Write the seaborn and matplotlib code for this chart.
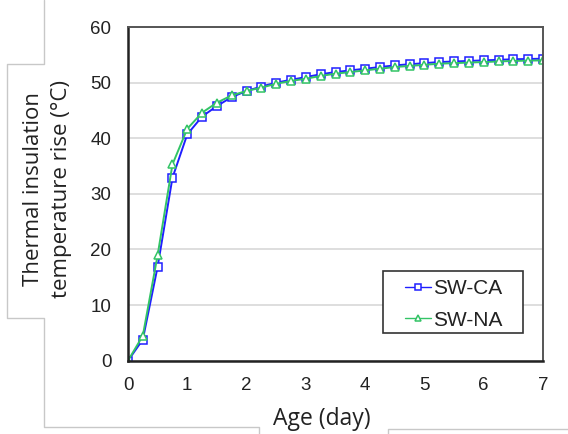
import numpy as np
import pandas as pd
import matplotlib
matplotlib.use("Agg")
import matplotlib.pyplot as plt
from matplotlib.lines import Line2D
from matplotlib.patches import Rectangle
import seaborn as sns

# ========== DATA ==========
age_day = [0, 0.25, 0.5, 0.75, 1, 1.25, 1.5, 1.75, 2, 2.25, 2.5, 2.75, 3, 3.25, 3.5,
           3.75, 4, 4.25, 4.5, 4.75, 5, 5.25, 5.5, 5.75, 6, 6.25, 6.5, 6.75, 7]
sw_ca = [0, 3.8, 16.9, 32.9, 40.7, 43.9, 45.8, 47.4, 48.5, 49.3, 50.0, 50.5, 51.0, 51.5, 51.9,
         52.2, 52.5, 52.8, 53.1, 53.3, 53.5, 53.7, 53.8, 53.9, 54.0, 54.1, 54.2, 54.25, 54.3]
sw_na = [0, 4.5, 19.0, 35.3, 41.7, 44.6, 46.4, 47.7, 48.5, 49.1, 49.8, 50.3, 50.7, 51.2, 51.6,
         51.9, 52.2, 52.5, 52.8, 53.0, 53.2, 53.4, 53.5, 53.6, 53.7, 53.8, 53.9, 53.95, 54.0]
series_names = ["SW-CA", "SW-NA"]
x_ticks = [0, 1, 2, 3, 4, 5, 6, 7]
y_ticks = [0, 10, 20, 30, 40, 50, 60]

df = pd.DataFrame({
    "age": age_day * 2,
    "rise": sw_ca + sw_na,
    "series": [series_names[0]] * len(age_day) + [series_names[1]] * len(age_day),
})

sns.set_style("white")
plt.rcParams["font.family"] = ["Liberation Sans", "DejaVu Sans"]
label_font = ["Open Sans", "DejaVu Sans"]

W, H = 568, 434
fig = plt.figure(figsize=(W / 100, H / 100), dpi=100)
ax = fig.add_axes([128 / W, 1 - 360.7 / H, 415 / W, 333.7 / H])

palette = {"SW-CA": "#1f1fff", "SW-NA": "#33c466"}
markers = {"SW-CA": "s", "SW-NA": "^"}
for name in series_names:
    sub = df[df["series"] == name]
    sns.lineplot(data=sub, x="age", y="rise", ax=ax, color=palette[name],
                 marker=markers[name], markersize=6, markerfacecolor="white",
                 markeredgecolor=palette[name], markeredgewidth=1.1,
                 linewidth=1.4, label=name)

ax.set_xlim(0, 7)
ax.set_ylim(0, 60)
ax.set_xticks(x_ticks)
ax.set_yticks(y_ticks)
ax.yaxis.grid(True, color="#dedede", linewidth=1.4)
ax.set_axisbelow(True)
ax.tick_params(direction="in", length=5, width=1.3, colors="#333333",
               labelsize=13.5, labelcolor="#222222")
ax.tick_params(axis="x", pad=12)
ax.tick_params(axis="y", pad=12)

for side in ["left", "bottom"]:
    ax.spines[side].set_color("#222222")
    ax.spines[side].set_linewidth(1.8)
for side in ["top", "right"]:
    ax.spines[side].set_color("#555555")
    ax.spines[side].set_linewidth(1.4)

ax.set_xlabel("Age (day)", fontsize=16.5, family=label_font, color="#222222")
ax.xaxis.label.set_va("baseline")
ax.xaxis.set_label_coords((322 - 128) / 415, -(425 - 360.7) / 333.7)
ax.set_ylabel("Thermal insulation\ntemperature rise (°C)", fontsize=16,
              family=label_font, color="#222222", linespacing=1.4)
ax.yaxis.label.set_va("center")
ax.yaxis.set_label_coords(-(128 - 47.5) / 415, (360.7 - 189) / 333.7)

# legend without its own frame, box drawn in pixel coords
leg = ax.legend(loc="upper left", bbox_to_anchor=(405 / W, 1 - 279 / H),
                bbox_transform=fig.transFigure, frameon=False,
                handlelength=1.25, handletextpad=0.12, borderpad=0,
                borderaxespad=0, labelspacing=0.6,
                prop={"family": ["Liberation Sans", "DejaVu Sans"], "size": 15})
for t in leg.get_texts():
    t.set_color("#222222")
for h in leg.legend_handles:
    h.set_linewidth(1.0)
    h.set_markersize(5)
fig.add_artist(Rectangle((382.7 / W, 1 - 332.7 / H), 140 / W, 62 / H,
                         transform=fig.transFigure, facecolor="white",
                         edgecolor="#333333", linewidth=1.2, zorder=2))
leg.set_zorder(3)
fig.add_artist(leg)

# text-box borders around the labels
def px_line(xs, ys):
    fig.add_artist(Line2D([x / W for x in xs], [1 - y / H for y in ys],
                          transform=fig.transFigure, color="#c8c8c8", linewidth=1.0))

px_line([44, 44, 7, 7, 44, 44, 259, 259], [0, 64, 64, 318, 318, 427, 427, 434])
px_line([388, 388, 568], [434, 429, 429])

fig.savefig("out.png", dpi=100)
